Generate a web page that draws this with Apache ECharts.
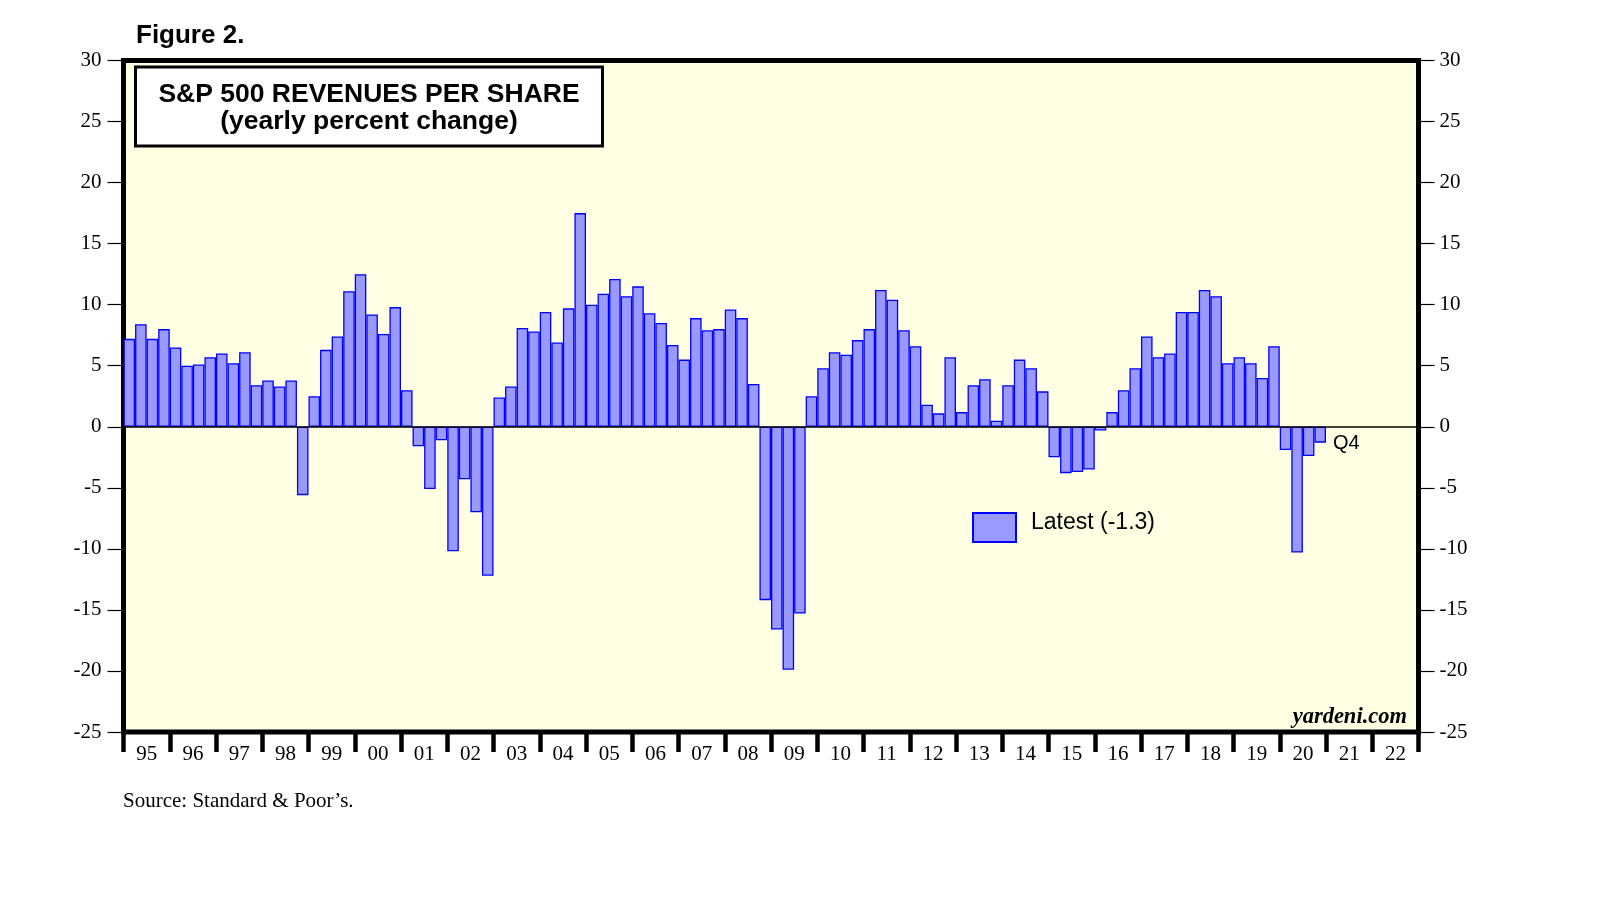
<!DOCTYPE html>
<html>
<head>
<meta charset="utf-8">
<script src="https://cdn.jsdelivr.net/npm/echarts@6/dist/echarts.min.js"></script>
<style>
html,body{margin:0;padding:0;background:#fff;}
#chart{width:1610px;height:910px;}
</style>
</head>
<body>
<div id="chart"></div>
<script>
// ---- data ----
const yearLabels = ['95','96','97','98','99','00','01','02','03','04','05','06','07','08','09','10','11','12','13','14','15','16','17','18','19','20','21','22'];
const quarterNames = ['Q1','Q2','Q3','Q4'];
const revenueGrowth = [
  7.2, 8.4, 7.2, 8.0,      // 1995
  6.5, 5.0, 5.1, 5.7,      // 1996
  6.0, 5.2, 6.1, 3.4,      // 1997
  3.8, 3.3, 3.8, -5.6,     // 1998
  2.5, 6.3, 7.4, 11.1,     // 1999
  12.5, 9.2, 7.6, 9.8,     // 2000
  3.0, -1.6, -5.1, -1.1,   // 2001
  -10.2, -4.3, -7.0, -12.2,// 2002
  2.4, 3.3, 8.1, 7.8,      // 2003
  9.4, 6.9, 9.7, 17.5,     // 2004
  10.0, 10.9, 12.1, 10.7,  // 2005
  11.5, 9.3, 8.5, 6.7,     // 2006
  5.5, 8.9, 7.9, 8.0,      // 2007
  9.6, 8.9, 3.5, -14.2,    // 2008
  -16.6, -19.9, -15.3, 2.5,// 2009
  4.8, 6.1, 5.9, 7.1,      // 2010
  8.0, 11.2, 10.4, 7.9,    // 2011
  6.6, 1.8, 1.1, 5.7,      // 2012
  1.2, 3.4, 3.9, 0.5,      // 2013
  3.4, 5.5, 4.8, 2.9,      // 2014
  -2.5, -3.8, -3.7, -3.5,  // 2015
  -0.3, 1.2, 3.0, 4.8,     // 2016
  7.4, 5.7, 6.0, 9.4,      // 2017
  9.4, 11.2, 10.7, 5.2,    // 2018
  5.7, 5.2, 4.0, 6.6,      // 2019
  -1.9, -10.3, -2.4, -1.3  // 2020
];
const latestLabel = 'Q4';
const seriesName = 'Latest (-1.3)';
const yMin = -25, yMax = 30, yStep = 5;

// ---- build ----
const quarterCats = [];
yearLabels.forEach(y => quarterNames.forEach(q => quarterCats.push(y + q)));
const barData = revenueGrowth.map((v, i) => {
  if (i === revenueGrowth.length - 1) {
    return {
      value: v,
      label: {
        show: true, position: 'right', formatter: latestLabel,
        color: '#000', fontSize: 20, fontFamily: 'Liberation Sans, Arial, sans-serif',
        offset: [2, 9]
      }
    };
  }
  return v;
});

const serif = 'Liberation Serif, Times New Roman, serif';
const sans = 'Liberation Sans, Arial, sans-serif';

const chart = echarts.init(document.getElementById('chart'));
chart.setOption({
  animation: false,
  backgroundColor: '#ffffff',
  grid: {
    left: 123.5, right: 191.5, top: 60.5, bottom: 178,
    show: true, backgroundColor: '#FFFFE4', borderColor: '#000', borderWidth: 5
  },
  legend: {
    show: true, left: 972, top: 511, padding: 0, itemWidth: 43, itemHeight: 29,
    icon: 'rect',
    data: [seriesName],
    formatter: name => '{a|' + name + '}\n{s| }',
    textStyle: {
      color: '#000', padding: [0, 0, 0, 10],
      rich: {
        a: { fontSize: 23, fontFamily: sans, color: '#000', lineHeight: 26 },
        s: { fontSize: 2, lineHeight: 10 }
      }
    },
    selectedMode: false
  },
  xAxis: [
    {
      type: 'category', data: quarterCats, gridIndex: 0,
      boundaryGap: true,
      axisLine: { show: false }, axisTick: { show: false }, axisLabel: { show: false },
      splitLine: { show: false }
    },
    {
      type: 'category', data: yearLabels, gridIndex: 0, position: 'bottom',
      boundaryGap: true,
      axisLine: { show: false, onZero: false },
      axisTick: { show: true, inside: false, length: 20, interval: 0, lineStyle: { color: '#000', width: 4.5 } },
      axisLabel: { show: true, interval: 0, margin: 12, fontSize: 21, fontFamily: serif, color: '#000' },
      splitLine: { show: false }
    }
  ],
  yAxis: [
    {
      type: 'value', min: yMin, max: yMax, interval: yStep, position: 'left',
      axisLine: { show: false },
      axisTick: { show: true, inside: false, length: 16, lineStyle: { color: '#000', width: 1.2 } },
      axisLabel: { margin: 22, fontSize: 21, fontFamily: serif, color: '#000' },
      splitLine: { show: false }
    },
    {
      type: 'value', min: yMin, max: yMax, interval: yStep, position: 'right',
      axisLine: { show: false },
      axisTick: { show: true, inside: false, length: 16, lineStyle: { color: '#000', width: 1.2 } },
      axisLabel: { margin: 21, fontSize: 21, fontFamily: serif, color: '#000' },
      splitLine: { show: false }
    }
  ],
  series: [
    {
      name: seriesName, type: 'bar', xAxisIndex: 0, yAxisIndex: 0,
      data: barData,
      barWidth: '100%', barCategoryGap: 0,
      itemStyle: { color: '#9999FF', borderColor: '#0000FF', borderWidth: 1.3 },
      markLine: {
        silent: true, symbol: ['none', 'none'], label: { show: false },
        lineStyle: { color: '#000', width: 1.5, type: 'solid' },
        data: [{ yAxis: 0 }]
      }
    }
  ],
  graphic: [
    { type: 'text', left: 136, top: 23, style: { text: 'Figure 2.', font: 'bold 26px ' + sans, fill: '#000' } },
    { type: 'rect', shape: { x: 135.5, y: 67, width: 467, height: 79 }, style: { fill: '#fff', stroke: '#000', lineWidth: 3 }, z: 10 },
    { type: 'text', x: 369, y: 94.5, z: 11, style: { text: 'S&P 500 REVENUES PER SHARE', font: 'bold 26.5px ' + sans, fill: '#000', textAlign: 'center', textVerticalAlign: 'middle' } },
    { type: 'text', x: 369, y: 121.5, z: 11, style: { text: '(yearly percent change)', font: 'bold 26.5px ' + sans, fill: '#000', textAlign: 'center', textVerticalAlign: 'middle' } },
    { type: 'text', x: 1407, y: 717.5, z: 11, style: { text: 'yardeni.com', font: 'italic bold 22.5px ' + serif, fill: '#000', textAlign: 'right', textVerticalAlign: 'middle' } },
    { type: 'text', x: 123, y: 801, style: { text: 'Source: Standard & Poor\u2019s.', font: '21px ' + serif, fill: '#000', textAlign: 'left', textVerticalAlign: 'middle' } }
  ]
});
</script>
</body>
</html>
